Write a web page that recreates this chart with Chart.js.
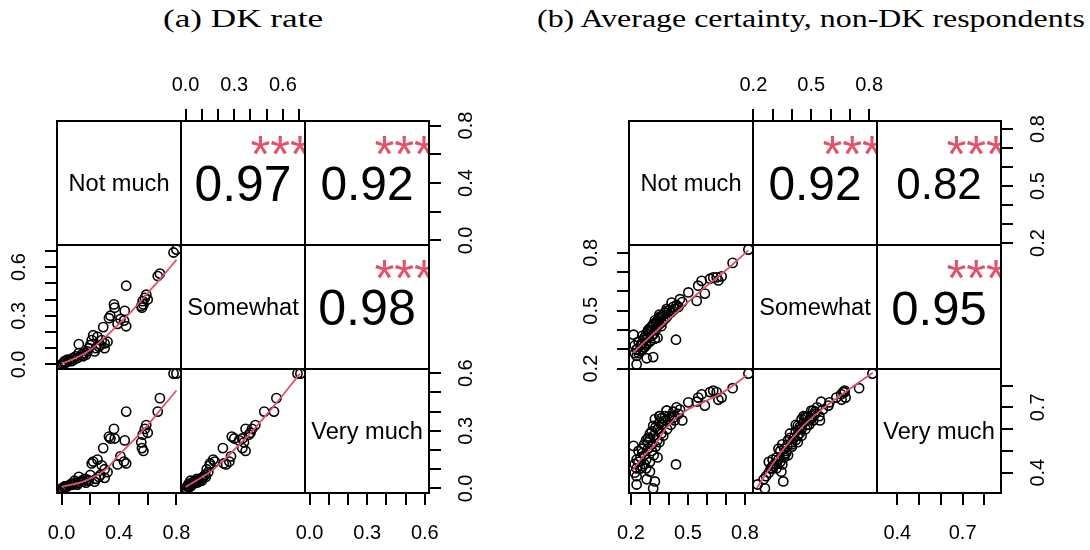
<!DOCTYPE html>
<html><head><meta charset="utf-8">
<script src="https://cdn.jsdelivr.net/npm/chart.js@4.4.1/dist/chart.umd.min.js"></script>
<style>
html,body{margin:0;padding:0;background:#fff;}
#wrap{position:relative;width:1090px;height:550px;overflow:hidden;background:#fff;}
#wrap canvas{position:absolute;}
.title{position:absolute;top:6px;font-family:"Liberation Serif","DejaVu Serif",serif;font-size:26px;line-height:26px;white-space:nowrap;color:#000;transform-origin:left center;}
</style></head><body><div id="wrap"></div>
<script>
// ---------- Titles ----------
const titles = ["(a) DK rate", "(b) Average certainty, non-DK respondents"];
const varNames = ["Not much", "Somewhat", "Very much"];

// ---------- Panel (a): DK rate ----------
const dkNotMuch  = [0.78,0.80,0.685,0.67,0.45,0.59,0.58,0.60,0.565,0.555,0.56,0.57,0.365,0.37,0.34,0.33,0.44,0.41,0.435,0.45,0.39,0.29,0.25,0.22,0.21,0.28,0.30,0.32,0.27,0.26,0.24,0.30,0.20,0.18,0.16,0.14,0.12,0.10,0.08,0.06,0.05,0.04,0.03,0.02,0.01,0.0,0.02,0.07,0.11,0.15,0.12,0.19,0.23,0.09,0.17];
const dkSomewhat = [0.69,0.708,0.56,0.545,0.485,0.43,0.41,0.40,0.39,0.36,0.35,0.37,0.37,0.35,0.30,0.285,0.33,0.28,0.27,0.235,0.25,0.23,0.17,0.18,0.15,0.15,0.13,0.14,0.12,0.11,0.10,0.10,0.12,0.08,0.07,0.06,0.07,0.05,0.04,0.03,0.02,0.03,0.01,0.02,0.005,0.0,0.01,0.02,0.04,0.05,0.125,0.10,0.08,0.03,0.06];
const dkVeryMuch = [0.598,0.598,0.47,0.40,0.40,0.33,0.31,0.29,0.28,0.24,0.21,0.195,0.31,0.26,0.26,0.27,0.25,0.167,0.14,0.13,0.125,0.21,0.15,0.14,0.13,0.12,0.10,0.085,0.07,0.06,0.05,0.055,0.07,0.045,0.05,0.04,0.03,0.03,0.02,0.02,0.015,0.01,0.01,0.005,0.0,0.0,0.01,0.025,0.02,0.035,0.06,0.04,0.035,0.04,0.03];
const dkCorr  = [0.97, 0.92, 0.98];          // (NM,SW), (NM,VM), (SW,VM)
const dkStars = ["***", "***", "***"];
const dkTicks  = [[0,0.2,0.4,0.6,0.8],[0,0.1,0.2,0.3,0.4,0.5,0.6,0.7],[0,0.1,0.2,0.3,0.4,0.5,0.6]];
const dkLabels = [[0,0.4,0.8],[0,0.3,0.6],[0,0.3,0.6]];
// lowess curves
const dkSmoothNS_x = [0,0.1,0.2,0.3,0.4,0.5,0.6,0.7,0.8];
const dkSmoothNS_y = [0.005,0.04,0.09,0.165,0.25,0.34,0.44,0.54,0.645];
const dkSmoothNV_x = [0,0.155,0.25,0.32,0.39,0.5,0.6,0.7,0.8];
const dkSmoothNV_y = [0.008,0.037,0.07,0.107,0.167,0.25,0.33,0.42,0.51];
const dkSmoothSV_x = [0,0.17,0.27,0.42,0.56,0.705];
const dkSmoothSV_y = [0.008,0.098,0.176,0.306,0.445,0.598];

// ---------- Panel (b): Average certainty ----------
const ceNotMuch  = [0.818,0.735,0.677,0.651,0.633,0.616,0.660,0.572,0.554,0.589,0.502,0.546,0.458,0.414,0.440,0.423,0.388,0.470,0.40,0.38,0.36,0.37,0.35,0.34,0.33,0.36,0.39,0.41,0.43,0.45,0.32,0.31,0.30,0.34,0.29,0.30,0.28,0.33,0.35,0.37,0.31,0.29,0.27,0.26,0.32,0.34,0.28,0.30,0.25,0.27,0.24,0.214,0.256,0.23,0.22,0.25,0.24,0.26,0.28,0.437,0.23,0.23,0.23,0.283,0.317,0.326,0.22,0.326,0.352,0.317,0.343,0.388,0.30,0.36,0.38,0.42,0.35,0.31,0.27,0.29];
const ceSomewhat = [0.817,0.748,0.678,0.673,0.673,0.666,0.657,0.655,0.630,0.589,0.595,0.551,0.560,0.542,0.530,0.520,0.510,0.545,0.50,0.49,0.47,0.48,0.46,0.45,0.44,0.44,0.47,0.49,0.51,0.52,0.43,0.42,0.41,0.42,0.40,0.39,0.38,0.40,0.43,0.45,0.37,0.36,0.35,0.37,0.38,0.36,0.33,0.34,0.32,0.31,0.34,0.376,0.33,0.30,0.32,0.29,0.28,0.30,0.32,0.35,0.298,0.266,0.222,0.254,0.26,0.355,0.28,0.45,0.47,0.43,0.44,0.50,0.345,0.42,0.46,0.50,0.48,0.40,0.36,0.39];
const ceVeryMuch = [0.855,0.788,0.745,0.770,0.777,0.770,0.735,0.760,0.745,0.708,0.723,0.726,0.690,0.660,0.700,0.680,0.685,0.640,0.66,0.64,0.65,0.62,0.63,0.60,0.61,0.58,0.60,0.62,0.64,0.67,0.57,0.59,0.56,0.55,0.54,0.58,0.55,0.52,0.54,0.57,0.50,0.51,0.53,0.49,0.48,0.47,0.46,0.45,0.47,0.44,0.50,0.523,0.51,0.46,0.44,0.42,0.45,0.43,0.42,0.438,0.42,0.384,0.346,0.37,0.328,0.36,0.40,0.646,0.66,0.615,0.60,0.685,0.405,0.62,0.66,0.65,0.66,0.53,0.48,0.56];
const ceCorr  = [0.92, 0.82, 0.95];
const ceStars = ["***", "***", "***"];
const ceTicks  = [[0.2,0.3,0.4,0.5,0.6,0.7,0.8],[0.2,0.3,0.4,0.5,0.6,0.7,0.8],[0.4,0.5,0.6,0.7,0.8]];
const ceLabels = [[0.2,0.5,0.8],[0.2,0.5,0.8],[0.4,0.7]];
const ceSmoothNS_x = [0.209,0.30,0.40,0.50,0.60,0.70,0.817];
const ceSmoothNS_y = [0.28,0.365,0.455,0.545,0.63,0.71,0.813];
const ceSmoothNV_x = [0.209,0.26,0.335,0.388,0.475,0.58,0.686,0.809];
const ceSmoothNV_y = [0.412,0.47,0.539,0.608,0.677,0.723,0.77,0.846];
const ceSmoothSV_x = [0.218,0.304,0.39,0.477,0.58,0.70,0.819];
const ceSmoothSV_y = [0.33,0.446,0.546,0.631,0.708,0.785,0.859];

// ---------- Layout ----------
const CELL = 124, MARGIN = 70, AXIS = 50, ROW_TOP = 121;
const RED = '#DF536B';
const SANS = '"Liberation Sans", Arial, sans-serif';
const wrap = document.getElementById('wrap');

const panels = [
  { x0: 57, vars: [dkNotMuch, dkSomewhat, dkVeryMuch], corr: dkCorr, stars: dkStars, ticks: dkTicks, labels: dkLabels,
    smooth: { '2-1': [dkSmoothNS_x, dkSmoothNS_y], '3-1': [dkSmoothNV_x, dkSmoothNV_y], '3-2': [dkSmoothSV_x, dkSmoothSV_y] },
    title: titles[0], titleCenter: 242.5, titleWidth: 160 },
  { x0: 629, vars: [ceNotMuch, ceSomewhat, ceVeryMuch], corr: ceCorr, stars: ceStars, ticks: ceTicks, labels: ceLabels,
    smooth: { '2-1': [ceSmoothNS_x, ceSmoothNS_y], '3-1': [ceSmoothNV_x, ceSmoothNV_y], '3-2': [ceSmoothSV_x, ceSmoothSV_y] },
    title: titles[1], titleCenter: 811, titleWidth: 548 }
];

function lim(arr) {
  const mn = Math.min(...arr), mx = Math.max(...arr), r = mx - mn;
  return [mn - 0.04 * r, mx + 0.04 * r];
}

function measure(txt, font) {
  const c = document.createElement('canvas').getContext('2d');
  c.font = font; return c.measureText(txt).width;
}
const labelSize = 0.9 * CELL / (Math.max(...varNames.map(v => measure(v, '100px ' + SANS))) / 100);

const cellPlugin = {
  id: 'cell',
  afterDatasetsDraw(chart, args, o) {
    const { ctx, chartArea: a } = chart;
    const cx = (a.left + a.right) / 2, cy = (a.top + a.bottom) / 2;
    const w = a.right - a.left, h = a.bottom - a.top;
    ctx.save();
    ctx.fillStyle = '#000';
    ctx.textAlign = 'center';
    ctx.textBaseline = 'alphabetic';
    if (o.label) {
      ctx.font = labelSize.toFixed(2) + 'px ' + SANS;
      ctx.fillText(o.label, cx, cy + 0.358 * labelSize);
    }
    if (o.corr !== undefined && o.corr !== null) {
      const txt = o.corr.toFixed(2);
      const base = 0.8 * w / (measure(txt, '100px ' + SANS) / 100);
      const size = base * (Math.abs(o.corr) + 0.3) / 1.3;
      ctx.font = size.toFixed(2) + 'px ' + SANS;
      ctx.fillText(txt, cx, cy + 0.358 * size);
      ctx.beginPath(); ctx.rect(a.left, a.top, w, h); ctx.clip();
      ctx.font = base.toFixed(2) + 'px ' + SANS;
      ctx.fillStyle = RED;
      const m = ctx.measureText(o.stars);
      const sx = a.left + 0.8 * w, sy = a.bottom - 0.8 * h;
      ctx.fillText(o.stars, sx, sy + (m.actualBoundingBoxAscent - m.actualBoundingBoxDescent) / 2);
    }
    ctx.restore();
    ctx.save();
    ctx.strokeStyle = '#000'; ctx.lineWidth = 2;
    ctx.strokeRect(a.left, a.top, w, h);
    ctx.restore();
  }
};

function scaleCfg(axis, pos, show, l, ticks, labels, pad) {
  return {
    type: 'linear', position: pos, display: show, min: l[0], max: l[1],
    afterBuildTicks: s => { s.ticks = ticks.map(v => ({ value: v })); },
    afterFit: s => {
      const size = show ? AXIS : 0;
      if (axis === 'x') s.height = size; else s.width = size;
    },
    ticks: {
      autoSkip: false, includeBounds: false,
      minRotation: axis === 'x' ? 0 : 90, maxRotation: axis === 'x' ? 0 : 90,
      padding: pad, color: '#000', font: { family: SANS, size: 20 },
      crossAlign: axis === 'y' ? 'center' : 'near',
      callback: v => labels.includes(v) ? v.toFixed(1) : ''
    },
    grid: { display: true, drawOnChartArea: false, drawTicks: true, tickLength: 12, color: '#000', lineWidth: 2 },
    border: { display: false }
  };
}

panels.forEach(p => {
  const t = document.createElement('div');
  t.className = 'title'; t.textContent = p.title; wrap.appendChild(t);
  const tw = t.getBoundingClientRect().width;
  const k = p.titleWidth / tw;
  t.style.left = (p.titleCenter - p.titleWidth / 2) + 'px';
  t.style.transform = 'scaleX(' + k.toFixed(3) + ')';

  for (let i = 1; i <= 3; i++) {
    for (let j = 1; j <= 3; j++) {
      const cv = document.createElement('canvas');
      cv.width = CELL + 2 * MARGIN; cv.height = CELL + 2 * MARGIN;
      cv.style.left = (p.x0 + (j - 1) * CELL - MARGIN) + 'px';
      cv.style.top = (ROW_TOP + (i - 1) * CELL - MARGIN) + 'px';
      wrap.appendChild(cv);
      const top = i === 1 && j % 2 === 0, bottom = i === 3 && j % 2 === 1;
      const left = j === 1 && i % 2 === 0, right = j === 3 && i % 2 === 1;
      const xv = p.vars[j - 1], yv = p.vars[i - 1];
      const datasets = [];
      if (i > j) {
        const sm = p.smooth[i + '-' + j];
        datasets.push({ data: sm[0].map((v, n) => ({ x: v, y: sm[1][n] })), showLine: true, pointRadius: 0,
          borderColor: RED, borderWidth: 1.8, cubicInterpolationMode: 'monotone', fill: false });
        datasets.push({ data: xv.map((v, n) => ({ x: v, y: yv[n] })), showLine: false, pointRadius: 4.6,
          pointStyle: 'circle', borderColor: '#000', backgroundColor: 'rgba(0,0,0,0)', borderWidth: 1.6 });
      }
      let corrIdx = null;
      if (i < j) corrIdx = (i === 1 && j === 2) ? 0 : (i === 1 && j === 3) ? 1 : 2;
      new Chart(cv, {
        type: 'scatter',
        data: { datasets },
        options: {
          responsive: false, animation: false, devicePixelRatio: 1, events: [],
          layout: { padding: { left: left ? MARGIN - AXIS : MARGIN, right: right ? MARGIN - AXIS : MARGIN,
                               top: top ? MARGIN - AXIS : MARGIN, bottom: bottom ? MARGIN - AXIS : MARGIN } },
          scales: {
            x: scaleCfg('x', top ? 'top' : 'bottom', top || bottom, lim(xv), p.ticks[j - 1], p.labels[j - 1], top ? 12 : 16),
            y: scaleCfg('y', right ? 'right' : 'left', left || right, lim(yv), p.ticks[i - 1], p.labels[i - 1], 12)
          },
          plugins: {
            legend: { display: false }, tooltip: { enabled: false },
            cell: {
              label: i === j ? varNames[i - 1] : null,
              corr: corrIdx !== null ? p.corr[corrIdx] : null,
              stars: corrIdx !== null ? p.stars[corrIdx] : ''
            }
          }
        },
        plugins: [cellPlugin]
      });
    }
  }
});
</script>
</body></html>
